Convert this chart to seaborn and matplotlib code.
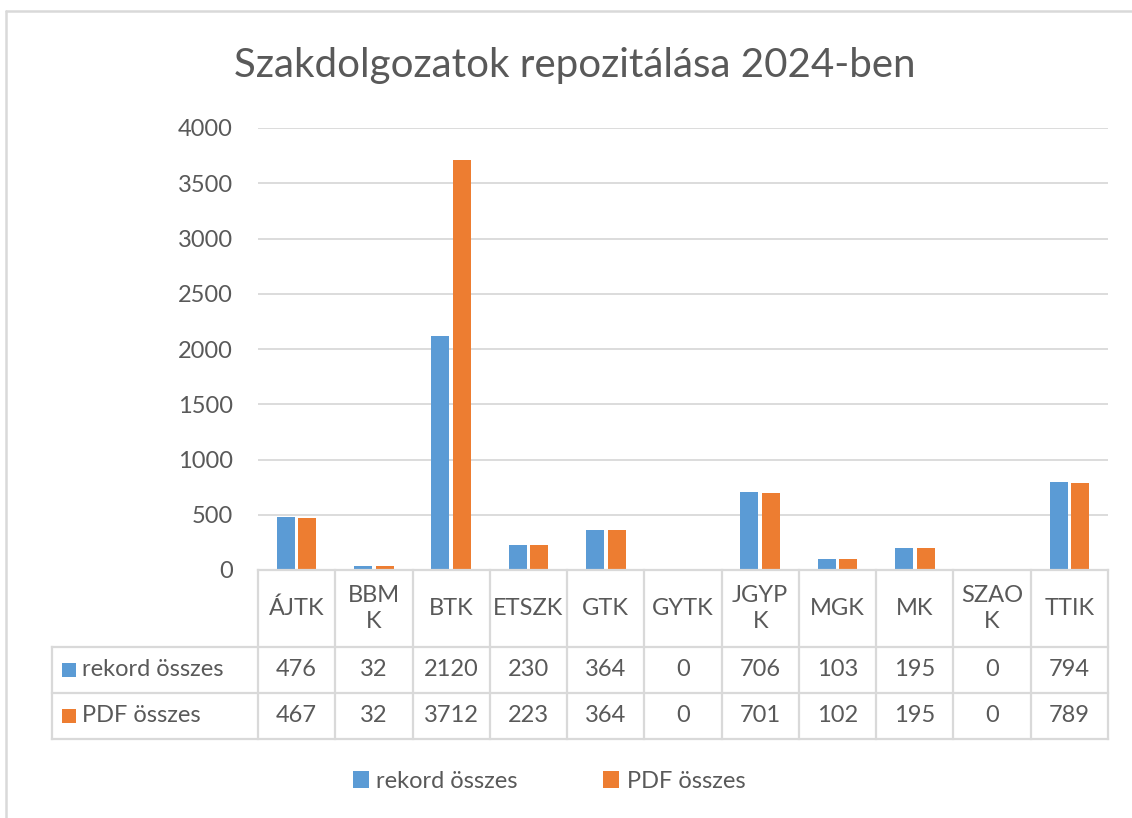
import numpy as np
import pandas as pd
import matplotlib
matplotlib.use("Agg")
import matplotlib.pyplot as plt
import seaborn as sns
from matplotlib.patches import Rectangle
from matplotlib.lines import Line2D

# ---- data ----
categories = ['ÁJTK', 'BBMK', 'BTK', 'ETSZK', 'GTK', 'GYTK', 'JGYPK', 'MGK', 'MK', 'SZAOK', 'TTIK']
header_labels = ['ÁJTK', 'BBM\nK', 'BTK', 'ETSZK', 'GTK', 'GYTK', 'JGYP\nK', 'MGK', 'MK', 'SZAO\nK', 'TTIK']
series_names = ['rekord összes', 'PDF összes']
rekord = [476, 32, 2120, 230, 364, 0, 706, 103, 195, 0, 794]
pdf = [467, 32, 3712, 223, 364, 0, 701, 102, 195, 0, 789]
yticks = [0, 500, 1000, 1500, 2000, 2500, 3000, 3500, 4000]
title = 'Szakdolgozatok repozitálása 2024-ben'

# ---- style ----
colors = ['#5B9BD5', '#ED7D31']
TXT = '#595959'
GRID = '#D9D9D9'
FS = 17
sns.set_theme(style='white')
plt.rcParams['font.family'] = ['Lato', 'DejaVu Sans']

W, H = 1132, 818
fig = plt.figure(figsize=(W / 100, H / 100), dpi=100)
fig.patch.set_facecolor('white')
ax = fig.add_axes([258 / W, 1 - 570 / H, 850 / W, 442 / H])

df = pd.DataFrame({
    'Kar': categories * 2,
    'Sorozat': [series_names[0]] * len(categories) + [series_names[1]] * len(categories),
    'Érték': rekord + pdf,
})
sns.barplot(data=df, x='Kar', y='Érték', hue='Sorozat', order=categories,
            hue_order=series_names, palette=colors, saturation=1,
            width=0.56, gap=0.17, ax=ax, legend=False, linewidth=0)

ax.set_xlim(-0.5, len(categories) - 0.5)
ax.set_ylim(0, 4000)
ax.set_yticks(yticks)
ax.set_yticklabels([str(v) for v in yticks], fontsize=FS, color=TXT)
ax.set_xticks([])
ax.set_xlabel('')
ax.set_ylabel('')
ax.tick_params(axis='y', length=0, pad=18)
ax.yaxis.grid(True, color=GRID, lw=1.3)
ax.set_axisbelow(True)
for s in ax.spines.values():
    s.set_visible(False)

# ---- data table below the axis ----
tr = ax.get_xaxis_transform()
n = len(categories)
y_rows = [0, -77 / 442, -123 / 442, -169 / 442]
x0, x1 = -0.5, n - 0.5
x_left = x0 - (206 / 850) * (x1 - x0)
lk = dict(color=GRID, lw=1.6, transform=tr, clip_on=False, solid_capstyle='projecting')
ax.add_line(Line2D([x0, x1], [0, 0], **lk))
for yy in y_rows[1:]:
    ax.add_line(Line2D([x_left, x1], [yy, yy], **lk))
for i in range(n + 1):
    ax.add_line(Line2D([i - 0.5, i - 0.5], [0, y_rows[-1]], **lk))
ax.add_line(Line2D([x_left, x_left], [y_rows[1], y_rows[-1]], **lk))

hdr_mid = (y_rows[0] + y_rows[1]) / 2
for i, lab in enumerate(header_labels):
    ax.text(i, hdr_mid, lab, transform=tr, ha='center', va='center',
            fontsize=FS, color=TXT, linespacing=1.25)
for r, vals in enumerate([rekord, pdf]):
    mid = (y_rows[r + 1] + y_rows[r + 2]) / 2
    for i, v in enumerate(vals):
        ax.text(i, mid, str(v), transform=tr, ha='center', va='center', fontsize=FS, color=TXT)
    ax.add_patch(Rectangle((x_left + (10 / 77.27), mid - 7 / 442), 14 / 77.27, 14 / 442,
                           transform=tr, facecolor=colors[r], edgecolor='none', clip_on=False))
    ax.text(x_left + 30 / 77.27, mid, series_names[r], transform=tr, ha='left', va='center',
            fontsize=FS, color=TXT)

# ---- legend ----
handles = [Rectangle((0, 0), 1, 1, facecolor=c, edgecolor='none') for c in colors]
fig.legend(handles, series_names, loc='center', bbox_to_anchor=(549 / W, 1 - 781 / H),
           ncol=2, frameon=False, fontsize=FS, handlelength=0.7, handleheight=0.7,
           handletextpad=0.3, columnspacing=3.6, labelcolor=TXT)

# ---- title ----
fig.text(574.5 / W, 1 - 66 / H, title, ha='center', va='center', fontsize=29, color=TXT)

# ---- chart area frame (left and top edge visible) ----
fig.add_artist(Line2D([6 / W, 6 / W], [0, 1 - 11 / H], transform=fig.transFigure, color=GRID, lw=1.8))
fig.add_artist(Line2D([6 / W, 1], [1 - 11 / H, 1 - 11 / H], transform=fig.transFigure, color=GRID, lw=1.8))

fig.savefig('out.png', dpi=100, facecolor='white')
